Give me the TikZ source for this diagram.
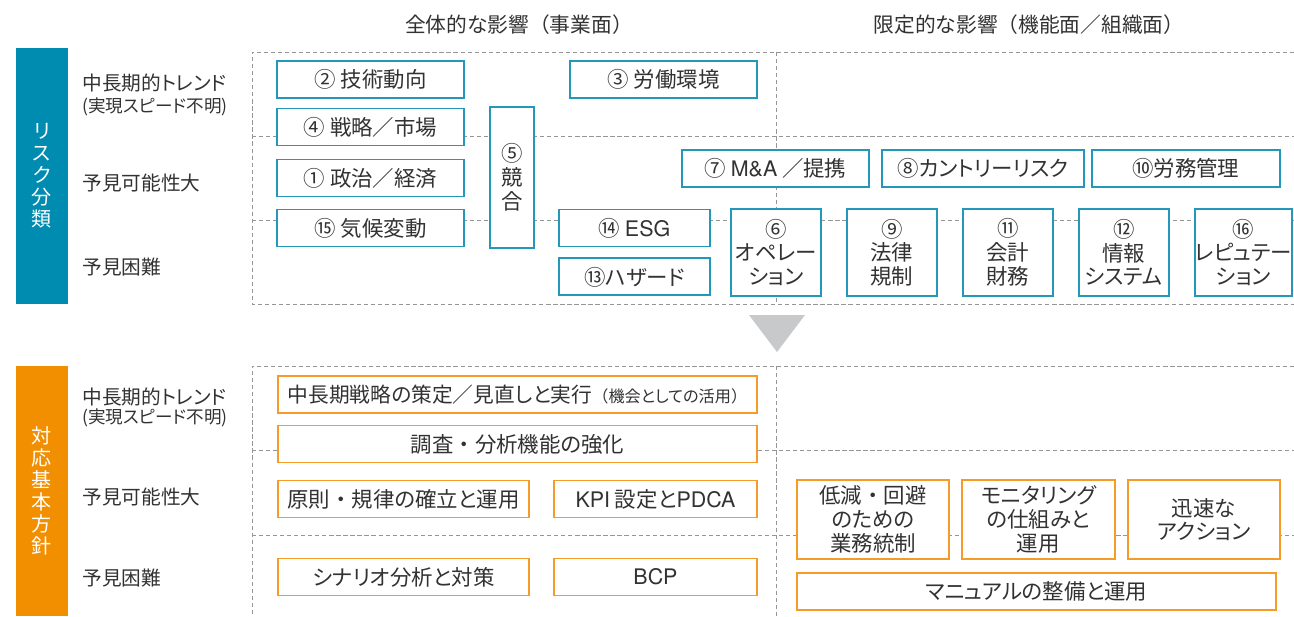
\documentclass[tikz,border=0pt]{standalone}
\usepackage{fontspec}
\setmainfont{Noto Sans CJK JP}[RawFeature=+palt]
\newfontfamily\fullwd{Noto Sans CJK JP}
\newfontfamily\helv{TeX Gyre Heros}
\newcommand{\fwc}[1]{{\fullwd #1}}
\newcommand{\latn}[1]{{\helv #1}}
\usepackage{tikz}
\usetikzlibrary{positioning}
\definecolor{riskteal}{RGB}{0,139,176}
\definecolor{boxteal}{RGB}{35,152,186}
\definecolor{planorange}{RGB}{241,143,0}
\definecolor{boxorange}{RGB}{245,155,40}
\definecolor{gridgray}{RGB}{150,150,150}
\definecolor{arrowgray}{RGB}{200,201,202}
\definecolor{textgray}{RGB}{50,50,50}

\begin{document}
\begin{tikzpicture}[x=0.02cm, y=-0.02cm, node distance=0.48cm]
\tikzstyle{rb} = [rectangle, draw=boxteal, line width=1.1pt, fill=white, text=textgray, align=center, inner sep=0pt, minimum height=0.74cm, font=\fontsize{12.2}{13.5}\selectfont]
\tikzstyle{ob} = [rb, draw=boxorange]
\tikzstyle{sq} = [rb, minimum width=1.8cm, minimum height=1.74cm]
\tikzstyle{g} = [gridgray, line width=0.5pt, dash pattern=on 2.4pt off 1.6pt]
\tikzstyle{lbl} = [anchor=west, text=textgray, inner sep=0pt, font=\fontsize{11.2}{13}\selectfont]
\tikzstyle{sublbl} = [lbl, font=\fontsize{10}{11}\selectfont]
\tikzstyle{hd} = [text=textgray, font=\fontsize{11.8}{13}\selectfont]
\tikzstyle{bar} = [text=white, align=center, font=\fontsize{11.4}{12.5}\selectfont]

\useasboundingbox (0,0) rectangle (1294,616);

% column headers
\node [hd] (whole) at (519,25) {全体的な影響\fwc{（}事業面\fwc{）}};
\node [hd] (part) at (1029,25) {限定的な影響\fwc{（}機能面\fwc{／}組織面\fwc{）}};

% risk classification
\fill [riskteal] (16,48) rectangle (68,304);
\node [bar] (risk) at (42,176) {リ\\ス\\ク\\分\\類};
\node [lbl] (rtrend) at (82,83) {中長期的トレンド};
\node [sublbl] (rspeed) at (82,107) {(実現スピード不明)};
\node [lbl] (rpred) at (82,183) {予見可能性大};
\node [lbl] (rhard) at (82,267) {予見困難};

\draw [g] (1294,52) -- (252,52) -- (252,304) -- (1294,304);
\draw [g] (252,136) -- (1294,136);
\draw [g] (252,220) -- (1294,220);
\draw [g] (776,52) -- (776,304);

\node [rb, minimum width=3.74cm] (tech) at (370.5,79.5) {\fwc{②} 技術動向};
\node [rb, minimum width=3.74cm] (strat) at (370.5,127) {\fwc{④} 戦略\fwc{／}市場};
\node [rb, minimum width=3.74cm] (polit) at (370.5,178) {\fwc{①} 政治\fwc{／}経済};
\node [rb, minimum width=3.74cm] (clim) at (370.5,228) {\fwc{⑮} 気候変動};
\node [rb, minimum width=0.88cm, minimum height=2.82cm] (comp) at (512,177.5) {\fwc{⑤}\\競\\合};
\node [rb, minimum width=3.74cm] (labor) at (663.5,79.5) {\fwc{③} 労働環境};
\node [rb, minimum width=3.02cm] (esg) at (634.5,228) {\fwc{⑭} \latn{ESG}};
\node [rb, minimum width=3.02cm, below=0.2cm of esg] (hazard) {\fwc{⑬}ハザード};
\node [rb, minimum width=3.74cm] (ma) at (775.5,168.5) {\fwc{⑦} \latn{M\&A} \fwc{／}提携};
\node [rb, minimum width=4.04cm, right=0.22cm of ma] (country) {\fwc{⑧}カントリーリスク};
\node [rb, minimum width=3.76cm, right=0.12cm of country] (labmgmt) {\fwc{⑩}労務管理};
\node [sq] (ops) at (776,252.5) {\fwc{⑥}\\オペレー\\ション};
\node [sq, right=of ops] (law) {\fwc{⑨}\\法律\\規制};
\node [sq, right=of law] (acct) {\fwc{⑪}\\会計\\財務};
\node [sq, right=of acct] (info) {\fwc{⑫}\\情報\\システム};
\node [sq, right=of info] (rep) {\fwc{⑯}\\レピュテー\\ション};

% down arrow
\fill [arrowgray] (749,315) -- (805,315) -- (777,352) -- cycle;

% basic policy
\fill [planorange] (16,366) rectangle (68,616);
\node [bar] (policy) at (42,491) {対\\応\\基\\本\\方\\針};
\node [lbl] (ptrend) at (82,397) {中長期的トレンド};
\node [sublbl] (pspeed) at (82,418) {(実現スピード不明)};
\node [lbl] (ppred) at (82,497) {予見可能性大};
\node [lbl] (phard) at (82,578) {予見困難};

\draw [g] (1294,366) -- (252,366) -- (252,616);
\draw [g] (252,450) -- (1294,450);
\draw [g] (252,535) -- (1294,535);
\draw [g] (776,366) -- (776,616);

\node [ob, minimum width=9.58cm, font=\fontsize{11.8}{13.5}\selectfont] (midplan) at (517.5,394.5) {中長期戦略の策定\fwc{／}見直しと実行{\fontsize{9.2}{10}\selectfont\fwc{（}機会としての活用\fwc{）}}};
\node [ob, minimum width=9.58cm] (survey) at (517.5,444) {調査\fwc{・}分析機能の強化};
\node [ob, minimum width=5.02cm] (rules) at (403.5,499) {原則\fwc{・}規律の確立と運用};
\node [ob, minimum width=4.06cm] (kpi) at (655.5,499) {\latn{KPI} 設定と\latn{PDCA}};
\node [ob, minimum width=5.02cm] (scen) at (403.5,577) {シナリオ分析と対策};
\node [ob, minimum width=4.06cm] (bcp) at (655.5,577) {\latn{BCP}};
\node [ob, minimum width=3.04cm, minimum height=1.58cm] (reduce) at (873,519.5) {低減\fwc{・}回避\\のための\\業務統制};
\node [ob, minimum width=3.06cm, minimum height=1.58cm, right=0.22cm of reduce] (monitor) {モニタリング\\の仕組みと\\運用};
\node [ob, minimum width=3.04cm, minimum height=1.58cm, right=0.22cm of monitor] (quick) {迅速な\\アクション};
\node [ob, minimum width=9.58cm] (manual) at (1036.5,591.5) {マニュアルの整備と運用};
\end{tikzpicture}
\end{document}
